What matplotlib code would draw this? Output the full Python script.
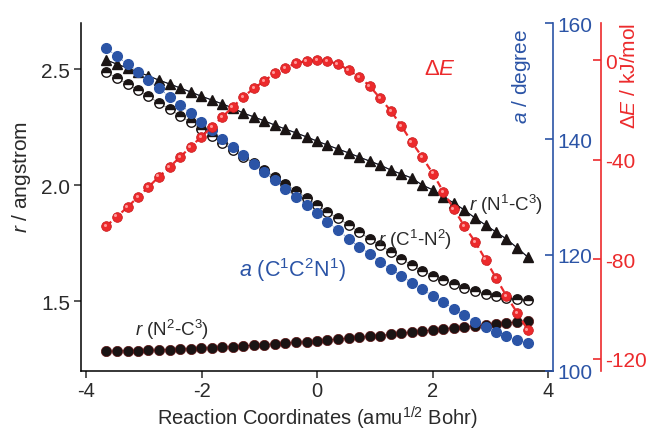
import matplotlib.pyplot as plt
import matplotlib.transforms as mtransforms

plt.rcParams['font.family'] = ['Liberation Sans', 'DejaVu Sans']
plt.rcParams['mathtext.fontset'] = 'custom'
plt.rcParams['mathtext.rm'] = 'Liberation Sans'
plt.rcParams['mathtext.it'] = 'Liberation Sans:italic'
plt.rcParams['axes.unicode_minus'] = False

# reaction coordinate (amu^1/2 Bohr)
coord = [-3.65, -3.47, -3.28, -3.10, -2.92, -2.74, -2.55, -2.37, -2.19, -2.01,
         -1.82, -1.64, -1.46, -1.28, -1.09, -0.91, -0.73, -0.55, -0.36, -0.18,
         0.00, 0.18, 0.36, 0.55, 0.73, 0.91, 1.09, 1.28, 1.46, 1.64,
         1.82, 2.01, 2.19, 2.37, 2.55, 2.74, 2.92, 3.10, 3.28, 3.47, 3.65]

# bond lengths (angstrom)
r_n2c3 = [1.285, 1.286, 1.287, 1.288, 1.289, 1.290, 1.292, 1.294, 1.296, 1.298,
          1.300, 1.302, 1.305, 1.308, 1.311, 1.314, 1.317, 1.320, 1.323, 1.326,
          1.329, 1.333, 1.337, 1.341, 1.345, 1.349, 1.353, 1.358, 1.362, 1.367,
          1.372, 1.377, 1.382, 1.387, 1.391, 1.395, 1.399, 1.403, 1.407, 1.411, 1.415]
r_n1c3 = [2.541, 2.523, 2.506, 2.489, 2.472, 2.454, 2.437, 2.420, 2.403, 2.385,
          2.368, 2.351, 2.334, 2.312, 2.295, 2.278, 2.260, 2.243, 2.226, 2.209,
          2.191, 2.174, 2.157, 2.140, 2.122, 2.105, 2.088, 2.066, 2.049, 2.032,
          2.002, 1.980, 1.950, 1.924, 1.894, 1.859, 1.829, 1.799, 1.769, 1.730, 1.691]
r_c1n2 = [2.489, 2.463, 2.437, 2.411, 2.385, 2.355, 2.329, 2.299, 2.273, 2.243,
          2.212, 2.182, 2.153, 2.122, 2.097, 2.066, 2.036, 2.006, 1.976, 1.946,
          1.916, 1.885, 1.859, 1.829, 1.799, 1.769, 1.743, 1.713, 1.683, 1.657,
          1.631, 1.609, 1.592, 1.575, 1.558, 1.545, 1.532, 1.523, 1.515, 1.510, 1.506]

# angle C1C2N1 (degree)
angle = [155.7, 154.3, 152.9, 151.6, 150.2, 148.8, 147.2, 145.9, 144.5, 142.9,
         141.6, 140.0, 138.6, 137.2, 135.7, 134.3, 132.9, 131.4, 130.0, 128.6,
         127.2, 125.7, 124.3, 122.8, 121.4, 120.2, 118.8, 117.6, 116.4, 115.2,
         114.1, 112.9, 111.9, 110.7, 109.7, 108.5, 107.6, 106.7, 106.0, 105.3, 104.8]

# relative energy (kJ/mol)
energy = [-66.7, -63.0, -59.0, -55.0, -51.0, -46.9, -42.9, -38.9, -34.9, -30.9,
          -26.8, -22.8, -18.8, -14.8, -11.2, -8.3, -5.1, -3.1, -1.1, -0.3,
          0.0, -0.3, -1.5, -3.9, -6.7, -10.3, -15.2, -20.4, -26.4, -32.9,
          -38.9, -45.7, -53.0, -59.8, -66.7, -73.1, -80.3, -87.6, -94.8, -101.7, -108.5]

BLUE = '#2b54a6'
RED = '#ec2a2c'
BLACK = '#1a1414'
TEXT = '#2a2a2a'
FS = 15

fig = plt.figure(figsize=(6.46, 4.31), dpi=100)
ax = fig.add_axes([0.1254, 0.1369, 0.7307, 0.8074])
ax_a = ax.twinx()
ax_e = ax.twinx()

# bond lengths on the left axis
ax.plot(coord, r_n2c3, 'o', color=BLACK, ms=7.4, mec='#5a1010', mew=0.5,
        ls='-', lw=0.6, zorder=3)
ax.plot(coord, r_c1n2, 'o', ms=6.8, fillstyle='top', mfc=BLACK, mfcalt='white',
        mec=BLACK, mew=1.0, ls='-', color='#777777', lw=0.5, zorder=3)
ax.plot(coord, r_n1c3, '^', color=BLACK, ms=7.4, mec=BLACK,
        ls='-', lw=0.8, zorder=3)
ax.plot(coord, r_n1c3, '-', color=BLUE, lw=0.6, zorder=2)

# angle on the blue axis
ax_a.plot(coord, angle, 'o', color=BLUE, ms=7.0, mec=BLUE, ls=':', lw=0.6)

# energy on the red axis, drawn as little spheres
ax_e.plot(coord, energy, color=RED, ls=(0, (3, 1.6)), lw=1.6, zorder=2)
ax_e.plot(coord, energy, 'o', ls='none', color=RED, ms=7, mec='#c81a1c', mew=0.5, zorder=3)
shine = mtransforms.offset_copy(ax_e.transData, fig=fig, x=-1.0, y=1.0, units='points')
ax_e.plot(coord, energy, 'o', ls='none', color='#ff9a9a', ms=2.2, mew=0,
          transform=shine, zorder=4)

ax.set_xlim(-4.087, 4.087)
ax.set_ylim(1.2, 2.7)
ax_a.set_ylim(100, 160)
ax_e.set_ylim(-125, 15)

ax.set_xticks([-4, -2, 0, 2, 4])
ax.set_yticks([1.5, 2.0, 2.5])
ax.set_yticklabels(['1.5', '2.0', '2.5'])
ax_a.set_yticks([100, 120, 140, 160])
ax_e.set_yticks([0, -40, -80, -120])

for side in ['top', 'right']:
    ax.spines[side].set_visible(False)
for side in ['top', 'left', 'bottom']:
    ax_a.spines[side].set_visible(False)
    ax_e.spines[side].set_visible(False)
ax_a.spines['right'].set_color(BLUE)
ax_e.spines['right'].set_color(RED)
ax_e.spines['right'].set_position(('axes', 1.1017))
for sp in ax.spines.values():
    sp.set_linewidth(1.1)
ax_a.spines['right'].set_linewidth(1.2)
ax_e.spines['right'].set_linewidth(1.2)

ax.tick_params(direction='out', length=5, width=1.1, labelsize=FS, colors=TEXT, pad=3)
ax.tick_params(axis='x', labelsize=14.5, pad=2)
ax_a.tick_params(direction='in', length=6, width=1.2, labelsize=FS,
                 color=BLUE, labelcolor=BLUE, pad=3)
ax_e.tick_params(direction='in', length=6, width=1.2, labelsize=FS,
                 color=RED, labelcolor=RED, pad=3)

ax.set_xlabel('Reaction Coordinates (amu$^{1/2}$ Bohr)', fontsize=14.5, color=TEXT)
ax.xaxis.set_label_coords(0.5, -0.093)
ax.set_ylabel('$r$ / angstrom', fontsize=FS, color=TEXT)
ax.yaxis.set_label_coords(-0.102, 0.56)

ax.text(0.934, 0.85, '$a$ / degree', rotation=90, transform=ax.transAxes,
        color=BLUE, fontsize=FS, ha='center', va='center')
ax.text(1.163, 0.85, '$\\mathit{\\Delta E}$ / kJ/mol', rotation=90, transform=ax.transAxes,
        color=RED, fontsize=FS, ha='center', va='center')

ax_e.text(0.761, 0.868, '$\\mathit{\\Delta E}$', transform=ax.transAxes,
          color=RED, fontsize=16, ha='center', va='center')
ax_e.text(0.447, 0.293, '$a$ (C$^1$C$^2$N$^1$)', transform=ax.transAxes,
          color=BLUE, fontsize=15.5, ha='center', va='center')
ax_e.text(0.708, 0.379, '$r$ (C$^1$-N$^2$)', transform=ax.transAxes,
          color=TEXT, fontsize=13.5, ha='center', va='center')
ax_e.text(0.900, 0.480, '$r$ (N$^1$-C$^3$)', transform=ax.transAxes,
          color=TEXT, fontsize=13.5, ha='center', va='center')
ax_e.text(0.193, 0.121, '$r$ (N$^2$-C$^3$)', transform=ax.transAxes,
          color=TEXT, fontsize=13.5, ha='center', va='center')

fig.savefig('out.png', dpi=100)
